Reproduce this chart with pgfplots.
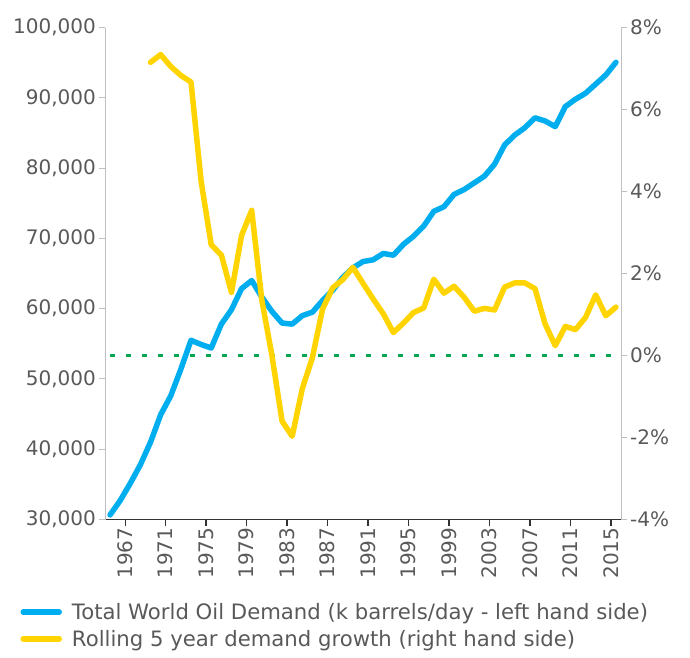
\documentclass[border=0pt]{standalone}
\usepackage{fontspec}
\setmainfont{DejaVu Sans}
\usepackage{pgfplots}
\pgfplotsset{compat=1.18}
\definecolor{oilblue}{RGB}{0,174,239}
\definecolor{oilyellow}{RGB}{255,212,0}
\definecolor{oilgreen}{RGB}{0,166,81}
\definecolor{txtgray}{RGB}{89,89,89}
\definecolor{axgray}{RGB}{191,191,191}
\definecolor{axdark}{RGB}{50,50,50}
\pgfplotsset{
  common/.style={
    at={(105pt,137.5pt)}, anchor=south west,
    scale only axis, width=516pt, height=492pt,
    xmin=1964.5, xmax=2015.5,
    clip=false,
    scaled y ticks=false,
    tick align=outside,
    major tick length=6pt,
    tick label style={font=\fontsize{20}{24}\selectfont, text=txtgray},
  }
}
\begin{document}
\begin{tikzpicture}
\useasboundingbox (0pt,0pt) rectangle (690pt,657pt);
\begin{axis}[common,
  ymin=30000, ymax=100000,
  ytick={30000,40000,50000,60000,70000,80000,90000,100000},
  yticklabels={{30,000},{40,000},{50,000},{60,000},{70,000},{80,000},{90,000},{100,000}},
  xtick={1966.5,1970.5,1974.5,1978.5,1982.5,1986.5,1990.5,1994.5,1998.5,2002.5,2006.5,2010.5,2014.5},
  xticklabels={1967,1971,1975,1979,1983,1987,1991,1995,1999,2003,2007,2011,2015},
  x tick label style={rotate=90, anchor=east, inner sep=2pt},
  y tick label style={inner sep=3pt},
  axis x line*=bottom, axis y line*=left,
  x axis line style={-, axdark, line width=1.6pt},
  y axis line style={-, axgray, line width=1pt},
  xtick style={axdark, line width=1.4pt},
  ytick style={axgray, line width=1pt},
]
\addplot[oilgreen, line width=3pt, dash pattern=on 5pt off 11pt] coordinates {(1965,53333.33) (2015,53333.33)};
\addplot[oilblue, line width=5.5pt, line cap=round, line join=round] coordinates {
(1965,30650) (1966,32700) (1967,35150) (1968,37800) (1969,41000)
(1970,44900) (1971,47600) (1972,51400) (1973,55500) (1974,54900)
(1975,54400) (1976,57800) (1977,59850) (1978,62850) (1979,64000)
(1980,61650) (1981,59600) (1982,57950) (1983,57800) (1984,59000)
(1985,59500) (1986,61150) (1987,62600) (1988,64450) (1989,65800)
(1990,66700) (1991,66950) (1992,67850) (1993,67600) (1994,69150)
(1995,70300) (1996,71750) (1997,73850) (1998,74500) (1999,76250)
(2000,76950) (2001,77900) (2002,78850) (2003,80550) (2004,83300)
(2005,84700) (2006,85750) (2007,87150) (2008,86700) (2009,85900)
(2010,88750) (2011,89800) (2012,90650) (2013,91950) (2014,93250)
(2015,95050)};
\end{axis}
\begin{axis}[common,
  ymin=-4, ymax=8,
  ytick={-4,-2,0,2,4,6,8},
  yticklabels={-4\%,-2\%,0\%,2\%,4\%,6\%,8\%},
  y tick label style={inner sep=3pt},
  axis y line*=right, axis x line=none,
  y axis line style={-, axgray, line width=1pt},
  ytick style={axgray, line width=1pt},
  legend style={at={(-0.170,-0.166)}, anchor=north west, draw=none, fill=none,
    font=\fontsize{21.2}{25}\selectfont, text=txtgray, row sep=9pt,
    nodes={inner xsep=10pt, inner ysep=0pt}},
  legend cell align=left,
  legend image code/.code={\draw[#1, line cap=round] (0pt,0pt) -- (36pt,0pt);},
]
\addlegendimage{oilblue, line width=5.5pt}
\addlegendentry{Total World Oil Demand (k barrels/day - left hand side)}
\addplot[oilyellow, line width=5.5pt, line cap=round, line join=round] coordinates {
(1969,7.15) (1970,7.34) (1971,7.05) (1972,6.83) (1973,6.67)
(1974,4.25) (1975,2.70) (1976,2.45) (1977,1.54) (1978,2.93)
(1979,3.54) (1980,1.35) (1981,0.00) (1982,-1.60) (1983,-1.97)
(1984,-0.81) (1985,-0.05) (1986,1.13) (1987,1.65) (1988,1.85)
(1989,2.15) (1990,1.76) (1991,1.38) (1992,1.02) (1993,0.56)
(1994,0.79) (1995,1.05) (1996,1.16) (1997,1.86) (1998,1.52)
(1999,1.69) (2000,1.42) (2001,1.08) (2002,1.15) (2003,1.11)
(2004,1.67) (2005,1.77) (2006,1.77) (2007,1.63) (2008,0.77)
(2009,0.24) (2010,0.71) (2011,0.63) (2012,0.93) (2013,1.48)
(2014,0.97) (2015,1.18)};
\addlegendentry{Rolling 5 year demand growth (right hand side)}
\end{axis}
\end{tikzpicture}
\end{document}
